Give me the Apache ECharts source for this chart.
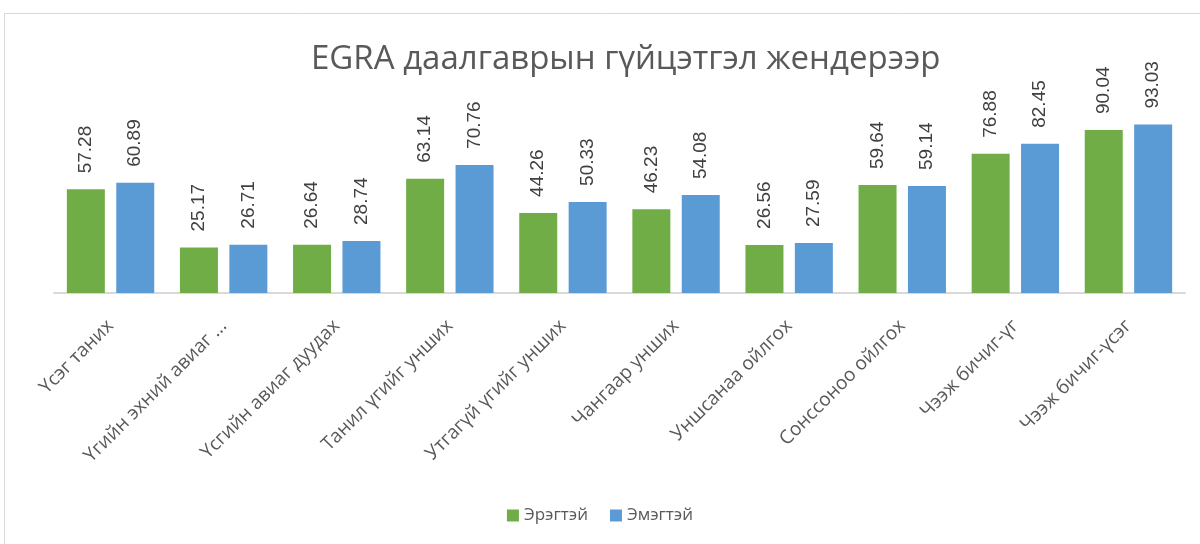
<!DOCTYPE html>
<html>
<head>
<meta charset="utf-8">
<script src="https://cdn.jsdelivr.net/npm/echarts@6/dist/echarts.min.js"></script>
<style>
  html, body { margin: 0; padding: 0; background: #fff; }
  #chart { width: 1200px; height: 544px; }
</style>
</head>
<body>
<div id="chart"></div>
<script>
const categories = [
  'Үсэг таних',
  'Үгийн эхний авиаг ...',
  'Үсгийн авиаг дуудах',
  'Танил үгийг унших',
  'Утгагүй үгийг унших',
  'Чангаар унших',
  'Уншсанаа ойлгох',
  'Сонссоноо ойлгох',
  'Чээж бичиг-үг',
  'Чээж бичиг-үсэг'
]
const maleValues = [57.28, 25.17, 26.64, 63.14, 44.26, 46.23, 26.56, 59.64, 76.88, 90.04]
const femaleValues = [60.89, 26.71, 28.74, 70.76, 50.33, 54.08, 27.59, 59.14, 82.45, 93.03]
const seriesNames = ['Эрэгтэй', 'Эмэгтэй']

const font = '"Open Sans", "Noto Sans", sans-serif'

const barLabel = {
  show: true,
  position: 'top',
  rotate: 90,
  align: 'left',
  verticalAlign: 'middle',
  distance: 16,
  color: '#404040',
  fontSize: 19,
  fontFamily: '"Liberation Sans", Arial, sans-serif',
  formatter: p => p.value.toFixed(2)
}

const option = {
  backgroundColor: '#fff',
  animation: false,
  title: {
    text: 'EGRA даалгаврын гүйцэтгэл жендерээр',
    left: 306,
    top: 38,
    textStyle: {
      color: '#595959',
      fontSize: 33,
      fontWeight: 'normal',
      fontFamily: font
    }
  },
  graphic: [{
    type: 'rect',
    shape: { x: 4.5, y: 13.5, width: 1210, height: 540 },
    style: { fill: 'none', stroke: '#d9d9d9', lineWidth: 1 },
    silent: true
  }],
  legend: {
    bottom: 15,
    left: 'center',
    itemWidth: 12,
    itemHeight: 12,
    itemGap: 22,
    icon: 'rect',
    textStyle: { color: '#595959', fontSize: 17, fontFamily: font },
    data: seriesNames
  },
  grid: {
    left: 54,
    right: 15,
    top: 112,
    bottom: 251
  },
  xAxis: {
    type: 'category',
    data: categories,
    axisLine: { lineStyle: { color: '#d9d9d9', width: 2 } },
    axisTick: { show: false },
    axisLabel: {
      rotate: 45,
      interval: 0,
      margin: 30,
      color: '#595959',
      fontSize: 19,
      fontFamily: font
    }
  },
  yAxis: {
    type: 'value',
    min: 0,
    max: 100,
    show: false,
    splitLine: { show: false }
  },
  series: [{
    name: seriesNames[0],
    type: 'bar',
    barWidth: '33.6%',
    barGap: '30%',
    itemStyle: { color: '#70ad47' },
    label: barLabel,
    data: maleValues
  }, {
    name: seriesNames[1],
    type: 'bar',
    barWidth: '33.6%',
    itemStyle: { color: '#5b9bd5' },
    label: barLabel,
    data: femaleValues
  }]
}

const myChart = echarts.init(document.getElementById('chart'))
myChart.setOption(option)
</script>
</body>
</html>
